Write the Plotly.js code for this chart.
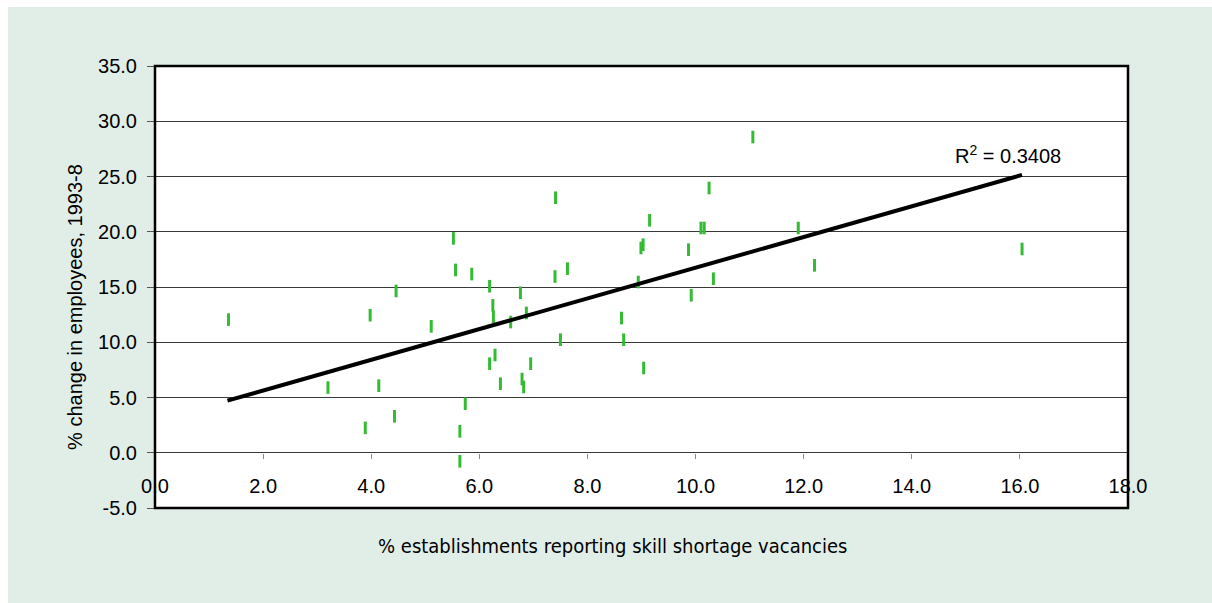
<!DOCTYPE html>
<html>
<head>
<meta charset="utf-8">
<script src="https://cdn.plot.ly/plotly-3.0.1.min.js"></script>
<style>
  html, body { margin: 0; padding: 0; background: #ffffff; }
  #chart { position: absolute; left: 8px; top: 7px; width: 1204px; height: 596px; }
</style>
</head>
<body>
<div id="chart"></div>
<script>
// % establishments reporting skill shortage vacancies
var shortageX = [1.36, 3.20, 3.89, 3.98, 4.14, 4.43, 4.46, 5.11, 5.52, 5.56,
                 5.86, 6.19, 6.25, 6.26, 6.76, 6.87, 6.58, 6.29, 6.19, 6.95,
                 6.39, 6.79, 6.82, 5.74, 5.64, 5.64, 7.40, 7.41, 11.06, 10.25,
                 9.15, 10.10, 10.16, 11.90, 9.03, 8.99, 9.87, 7.63, 12.20, 8.94,
                 10.33, 9.92, 8.63, 8.67, 7.50, 9.04, 16.04];
// % change in employees, 1993-8
var employeeChange = [12.05, 5.90, 2.25, 12.45, 6.07, 3.30, 14.64, 11.44, 19.40, 16.54,
                      16.17, 15.07, 13.34, 12.30, 14.48, 12.65, 11.83, 8.85, 8.06, 8.06,
                      6.25, 6.67, 5.95, 4.44, 1.94, -0.77, 15.95, 23.08, 28.57, 23.96,
                      21.04, 20.34, 20.34, 20.34, 18.83, 18.53, 18.38, 16.66, 16.96, 15.45,
                      15.75, 14.25, 12.19, 10.23, 10.23, 7.67, 18.44];
// linear trend line end points as drawn
var trendX = [1.34, 16.04];
var trendY = [4.71, 25.14];
// tick labels
var xTickVals = [0, 2, 4, 6, 8, 10, 12, 14, 16, 18];
var xTickText = ['0.0', '2.0', '4.0', '6.0', '8.0', '10.0', '12.0', '14.0', '16.0', '18.0'];
var yTickVals = [-5, 0, 5, 10, 15, 20, 25, 30, 35];
var yTickText = ['-5.0', '0.0', '5.0', '10.0', '15.0', '20.0', '25.0', '30.0', '35.0'];
var rSquaredLabel = 'R<sup>2</sup> = 0.3408';
var xTitle = '% establishments reporting skill shortage vacancies';
var yTitle = '% change in employees, 1993-8';

var font = '"Liberation Sans", Arial, sans-serif';

var traces = [
  {
    type: 'scatter', mode: 'markers',
    x: shortageX, y: employeeChange,
    marker: { symbol: 'line-ns', size: 9, color: '#33bb33', line: { color: '#33bb33', width: 3 } },
    hoverinfo: 'x+y', showlegend: false
  },
  {
    type: 'scatter', mode: 'lines',
    x: trendX, y: trendY,
    line: { color: '#000000', width: 4 },
    hoverinfo: 'skip', showlegend: false
  }
];

var layout = {
  width: 1204, height: 596,
  margin: { l: 147, r: 84, t: 59, b: 95 },
  paper_bgcolor: '#e1eee7',
  plot_bgcolor: '#ffffff',
  font: { family: font, size: 20, color: '#000000' },
  showlegend: false,
  xaxis: {
    range: [0, 18], tickmode: 'array', tickvals: xTickVals, ticktext: xTickText,
    showgrid: false, zeroline: false, showline: false,
    anchor: 'free', position: 0.125,
    ticks: 'outside', ticklen: 5, tickwidth: 1, tickcolor: '#888888',
    ticklabelstandoff: 10,
    tickfont: { family: font, size: 20, color: '#000000' }
  },
  yaxis: {
    range: [-5, 35], tickmode: 'array', tickvals: yTickVals, ticktext: yTickText,
    showgrid: true, gridcolor: '#3a3a3a', gridwidth: 1,
    zeroline: false, showline: false,
    ticks: 'outside', ticklen: 7, tickwidth: 1, tickcolor: '#555555',
    ticklabelstandoff: 6,
    tickfont: { family: font, size: 20, color: '#000000' }
  },
  shapes: [
    { type: 'rect', xref: 'paper', yref: 'paper', x0: 0, x1: 1, y0: 0, y1: 1,
      line: { color: '#000000', width: 2.5 }, fillcolor: 'rgba(0,0,0,0)', layer: 'above' }
  ],
  annotations: [
    { text: rSquaredLabel, x: 14.77, y: 26.95, xref: 'x', yref: 'y',
      xanchor: 'left', yanchor: 'middle', showarrow: false,
      font: { family: font, size: 20, color: '#000000' } },
    { text: xTitle, xref: 'paper', yref: 'paper', x: 0.470, y: -0.086,
      xanchor: 'center', yanchor: 'middle', showarrow: false,
      font: { family: '"DejaVu Sans Condensed", "DejaVu Sans", sans-serif', size: 20, color: '#000000' } },
    { text: yTitle, xref: 'paper', yref: 'paper', x: -0.0822, y: 0.455,
      xanchor: 'center', yanchor: 'middle', showarrow: false, textangle: -90,
      font: { family: font, size: 20, color: '#000000' } }
  ]
};

Plotly.newPlot('chart', traces, layout, { displayModeBar: false, staticPlot: true });
</script>
</body>
</html>
